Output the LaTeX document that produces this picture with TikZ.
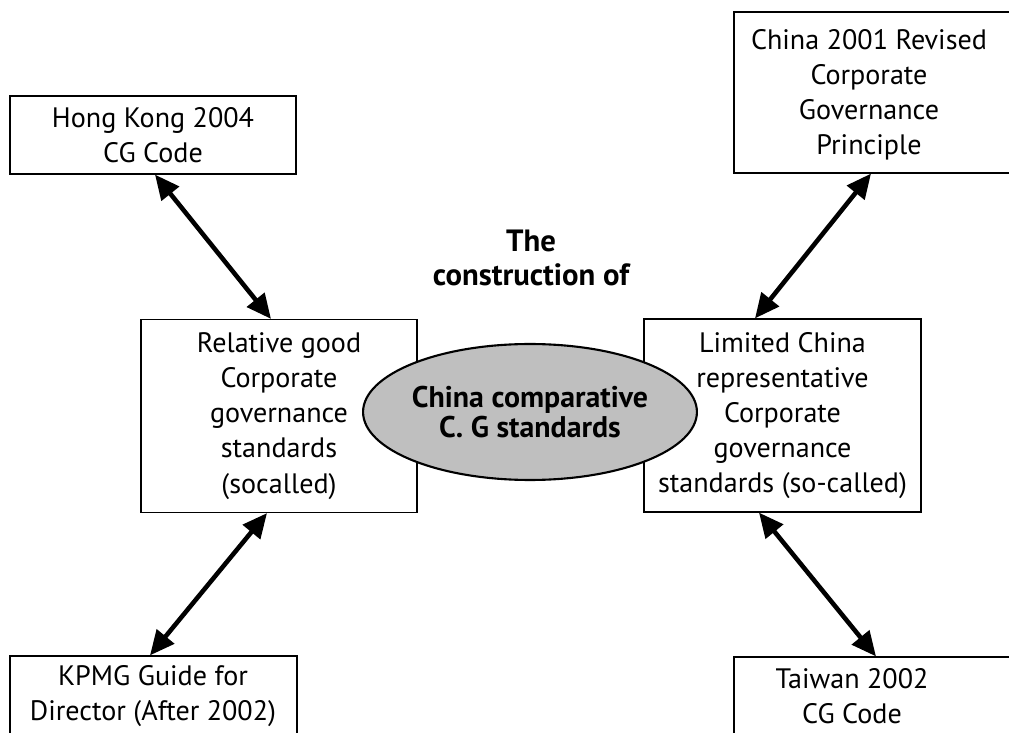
\documentclass[tikz,border=0pt]{standalone}
\usepackage{fontspec}
\setmainfont{PT Sans}
\usetikzlibrary{calc,shapes.geometric,arrows.meta}

\tikzset{
	box/.style={rectangle, draw, line width=0.7pt, align=center, inner sep=0pt},
	txt/.style={align=center, font=\fontsize{16}{20}\selectfont},
	core/.style={ellipse, draw, line width=1.2pt, fill=black!25, align=center, inner sep=0pt,
		font=\bfseries\fontsize{17}{17}\selectfont}
}

\begin{document}
\begin{tikzpicture}[x=0.02cm, y=-0.02cm,
			dbl/.style={<->, line width=2.6pt, >={Triangle[length=14pt,width=12.5pt]}}]

			\useasboundingbox (0,0) rectangle (1009,733);
			\clip (0,0) rectangle (1009,733);

			% drawing outer boxes
			\node[box, txt, minimum width=5.72cm, minimum height=1.56cm] (hk) at (153,135)
				{Hong Kong 2004\\CG Code};
			\node[box, minimum width=5.62cm, minimum height=3.22cm] (cnbox) at (874.5,92.5) {};
			\node[txt] (cn) at (869,95) {China 2001 Revised\\Corporate\\Governance\\Principle};
			\node[box, minimum width=5.74cm, minimum height=2.08cm] (kpbox) at (153.5,708) {};
			\node[txt] (kp) at (153,696) {KPMG Guide for\\Director (After 2002)};
			\node[box, minimum width=5.72cm, minimum height=2.06cm] (twbox) at (877,708.5) {};
			\node[txt] (tw) at (852,696) {Taiwan 2002\\CG Code};

			% drawing middle boxes
			\node[box, txt, minimum width=5.52cm, minimum height=3.86cm] (rel) at (279,416)
				{Relative good\\Corporate\\governance\\standards\\(socalled)};
			\node[box, txt, minimum width=5.54cm, minimum height=3.86cm] (lim) at (782.5,415.5)
				{Limited China\\representative\\Corporate\\governance\\standards (so-called)};

			% drawing core ellipse
			\node[core, minimum width=6.28cm, minimum height=2.72cm] (cg) at (530,412)
				{China comparative\\C. G standards};
			\node[txt, font=\bfseries\fontsize{17.5}{19}\selectfont] (head) at (531,258)
				{The\\construction of};

			% drawing arrows
			\draw[dbl] ($(hk.south)+(2,0)$) -- ($(rel.north)+(-8,0)$);
			\draw[dbl] ($(cnbox.south)+(-3.5,0)$) -- ($(lim.north)+(-27.5,0)$);
			\draw[dbl] ($(rel.south)+(-12,0)$) -- ($(kpbox.north)+(-3.5,0)$);
			\draw[dbl] ($(lim.south)+(-23.5,0)$) -- ($(twbox.north)+(-1,0)$);

\end{tikzpicture}
\end{document}
